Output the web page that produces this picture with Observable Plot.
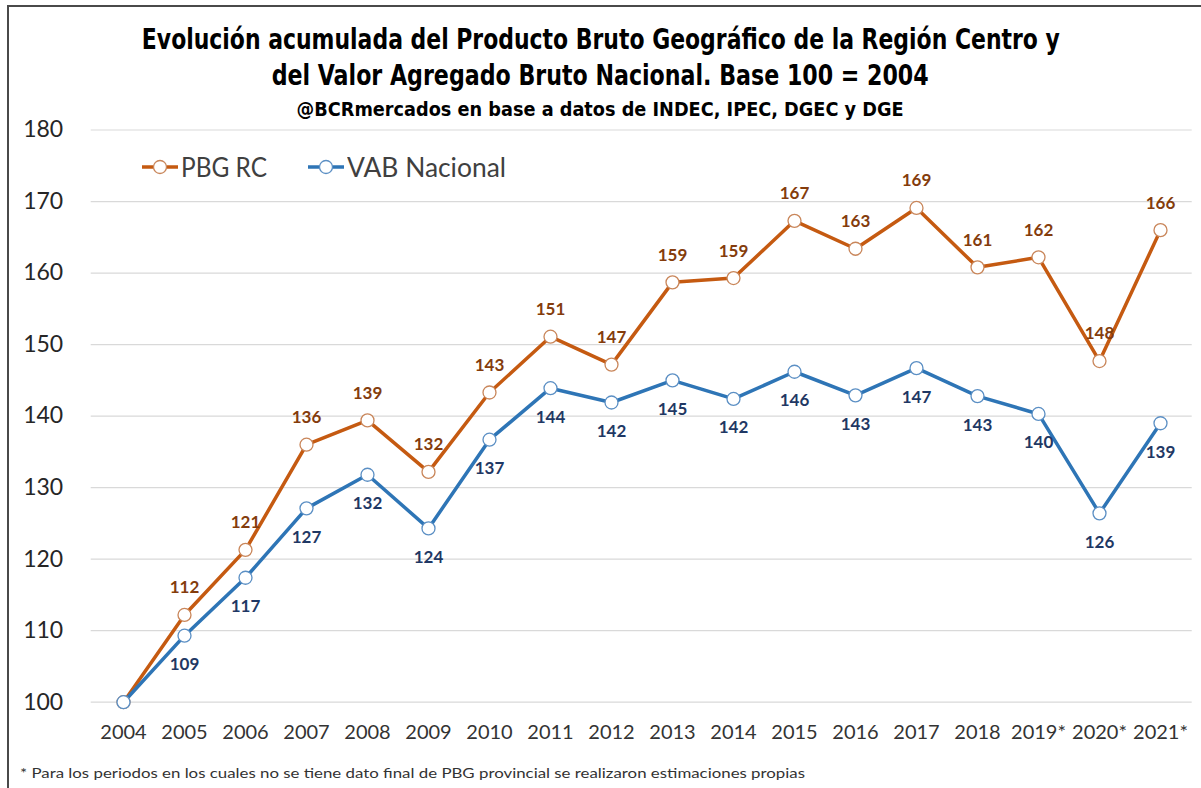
<!DOCTYPE html>
<html>
<head>
<meta charset="utf-8">
<script src="https://cdn.jsdelivr.net/npm/d3@7"></script>
<script src="https://cdn.jsdelivr.net/npm/@observablehq/plot@0.6"></script>
<style>
  html, body { margin: 0; padding: 0; background: #fff; }
  #page { position: relative; width: 1201px; height: 788px; overflow: hidden; font-family: Lato, "Open Sans", sans-serif; }
  #frame { position: absolute; left: 7px; top: 5px; width: 1200px; height: 800px; border-top: 2.5px solid #4a4a4a; border-left: 2px solid #4a4a4a; pointer-events: none; }
  #header { position: relative; height: 112px; }
  .tline { position: absolute; left: 0; width: 1201px; text-align: center; white-space: nowrap; }
  .tline span { display: inline-block; transform-origin: center center; font-family: "Liberation Sans Narrow", "DejaVu Sans Condensed", "DejaVu Sans", sans-serif; font-stretch: condensed; font-weight: bold; color: #000; }
  #t1 { top: 22px; } #t1 span { font-size: 29px; }
  #t2 { top: 58px; } #t2 span { font-size: 29px; }
  #t3 { top: 98px; } #t3 span { font-size: 19px; }
  #chart svg { display: block; overflow: visible; }
  #legend { position: absolute; left: 0; top: 152px; height: 30px; font-family: Lato, "Open Sans", sans-serif; font-size: 26px; color: #404040; }
  .litem { position: absolute; top: 0; white-space: nowrap; height: 30px; }
  .litem svg { position: absolute; left: 0; top: 0; }
  .litem span { position: absolute; left: 40px; top: 0; transform-origin: left center; white-space: nowrap; line-height: 30px; }
  #foot { position: relative; height: 28px; }
  #foot span { position: absolute; left: 20px; top: 4px; display: inline-block; transform-origin: left center; font-family: Lato, "Open Sans", sans-serif; font-size: 14px; color: #333; white-space: nowrap; }
</style>
</head>
<body>
<div id="page">
  <div id="header">
    <div class="tline" id="t1"><span>Evolución acumulada del Producto Bruto Geográfico de la Región Centro y</span></div>
    <div class="tline" id="t2"><span>del Valor Agregado Bruto Nacional. Base 100 = 2004</span></div>
    <div class="tline" id="t3"><span>@BCRmercados en base a datos de INDEC, IPEC, DGEC y DGE</span></div>
  </div>
  <div id="chart"></div>
  <div id="foot"><span>* Para los periodos en los cuales no se tiene dato final de PBG provincial se realizaron estimaciones propias</span></div>
  <div id="legend"></div>
  <div id="frame"></div>
</div>
<script>
// ---- data ----
const years = ["2004","2005","2006","2007","2008","2009","2010","2011","2012","2013","2014","2015","2016","2017","2018","2019*","2020*","2021*"];
const pbgRC = [100, 112.2, 121.3, 136.0, 139.4, 132.2, 143.3, 151.1, 147.2, 158.7, 159.3, 167.3, 163.4, 169.1, 160.8, 162.2, 147.7, 166.0];
const vabNacional = [100, 109.3, 117.4, 127.1, 131.8, 124.3, 136.7, 143.9, 141.9, 145.0, 142.4, 146.2, 142.9, 146.7, 142.8, 140.3, 126.4, 139.0];
const seriesNames = ["PBG RC", "VAB Nacional"];
const yTicks = [100, 110, 120, 130, 140, 150, 160, 170, 180];

const colors = {
  pbgLine: "#C55A11", pbgMarker: "#C9865A", pbgLabel: "#843C0C",
  vabLine: "#2E75B6", vabMarker: "#5B8FC4", vabLabel: "#1F3864"
};

const rowsP = years.map((y, i) => ({year: y, v: pbgRC[i]}));
const rowsV = years.map((y, i) => ({year: y, v: vabNacional[i]}));

const chart = Plot.plot({
  width: 1201,
  height: 648,
  marginTop: 17.5,
  marginBottom: 58.3,
  marginLeft: 90.7,
  marginRight: 9.3,
  style: {fontFamily: "Lato, 'Open Sans', sans-serif", color: "#262626", background: "transparent", overflow: "visible"},
  x: {type: "point", domain: years, padding: 0.5},
  y: {domain: [100, 180]},
  marks: [
    Plot.ruleY(yTicks, {stroke: "#d9d9d9", strokeWidth: 1.2}),
    Plot.axisY({ticks: yTicks, tickSize: 0, tickPadding: 28, fontSize: 23, fill: "#262626", label: null}),
    Plot.axisX({tickSize: 0, tickPadding: 23, fontSize: 20, fill: "#333", label: null}),
    Plot.line(rowsP, {x: "year", y: "v", stroke: colors.pbgLine, strokeWidth: 3.5}),
    Plot.line(rowsV, {x: "year", y: "v", stroke: colors.vabLine, strokeWidth: 3.5}),
    Plot.dot(rowsP, {x: "year", y: "v", r: 6.5, fill: "white", stroke: colors.pbgMarker, strokeWidth: 1.3}),
    Plot.dot(rowsV, {x: "year", y: "v", r: 6.5, fill: "white", stroke: colors.vabMarker, strokeWidth: 1.3}),
    Plot.text(rowsP.slice(1), {x: "year", y: "v", text: d => String(Math.round(d.v)), dy: -27, fill: colors.pbgLabel, fontSize: 17, fontWeight: "bold"}),
    Plot.text(rowsV.slice(1), {x: "year", y: "v", text: d => String(Math.round(d.v)), dy: 29, fill: colors.vabLabel, fontSize: 17, fontWeight: "bold"})
  ]
});
document.getElementById("chart").appendChild(chart);

// ---- legend (HTML) ----
const legend = document.getElementById("legend");
const legendItems = [
  {name: seriesNames[0], line: colors.pbgLine, marker: colors.pbgMarker, left: 141, textWidth: 86},
  {name: seriesNames[1], line: colors.vabLine, marker: colors.vabMarker, left: 307, textWidth: 159}
];
legendItems.forEach(it => {
  const div = document.createElement("div");
  div.className = "litem";
  div.style.left = it.left + "px";
  div.innerHTML = `<svg width="38" height="30"><line x1="1" y1="15" x2="37" y2="15" stroke="${it.line}" stroke-width="3.5"/><circle cx="19" cy="15" r="6.5" fill="white" stroke="${it.marker}" stroke-width="1.3"/></svg><span>${it.name}</span>`;
  legend.appendChild(div);
  const sp = div.querySelector("span");
  const w = sp.getBoundingClientRect().width;
  if (w > 0) sp.style.transform = `scaleX(${it.textWidth / w})`;
});

// ---- fit header/footer text widths ----
function fit(sel, target) {
  const el = document.querySelector(sel);
  const w = el.getBoundingClientRect().width;
  if (w > 0) el.style.transform = `scaleX(${target / w})`;
}
fit("#t1 span", 918);
fit("#t2 span", 657);
fit("#t3 span", 607);
fit("#foot span", 785);
</script>
</body>
</html>
